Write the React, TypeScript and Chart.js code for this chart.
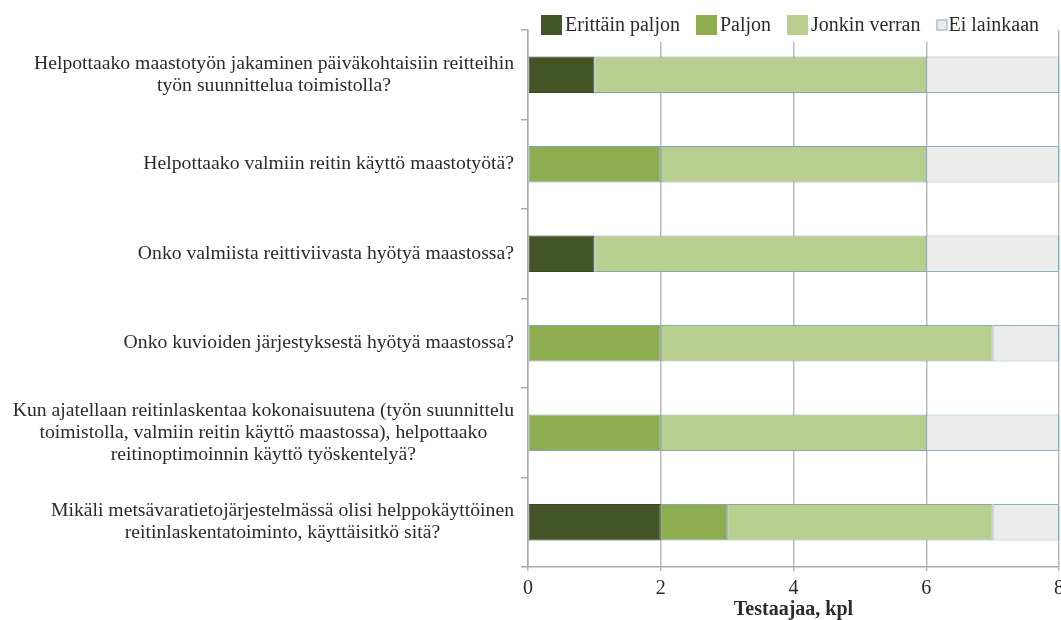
import React, { useEffect, useRef } from "react";
import { Chart, registerables } from "chart.js";

Chart.register(...registerables);

const categories: string[][] = [
  ["Helpottaako maastotyön jakaminen päiväkohtaisiin reitteihin", "työn suunnittelua toimistolla?"],
  ["Helpottaako valmiin reitin käyttö maastotyötä?"],
  ["Onko valmiista reittiviivasta hyötyä maastossa?"],
  ["Onko kuvioiden järjestyksestä hyötyä maastossa?"],
  [
    "Kun ajatellaan reitinlaskentaa kokonaisuutena (työn suunnittelu",
    "toimistolla, valmiin reitin käyttö maastossa), helpottaako",
    "reitinoptimoinnin käyttö työskentelyä?",
  ],
  ["Mikäli metsävaratietojärjestelmässä olisi helppokäyttöinen", "reitinlaskentatoiminto, käyttäisitkö sitä?"],
];

const seriesNames = ["Erittäin paljon", "Paljon", "Jonkin verran", "Ei lainkaan"];
const erittainPaljon = [1, 0, 1, 0, 0, 2];
const paljon = [0, 2, 0, 2, 2, 1];
const jonkinVerran = [5, 4, 5, 5, 4, 4];
const eiLainkaan = [2, 2, 2, 1, 2, 1];

const xTicks = [0, 2, 4, 6, 8];
const xTitle = "Testaajaa, kpl";

const FONT = "'Liberation Serif', 'Times New Roman', serif";
const TEXT = "#2b2b2b";

const labelPlugin = {
  id: "multiLabels",
  afterDraw(chart: any) {
    const ctx = chart.ctx;
    const y = chart.scales.y;
    const left = chart.chartArea.left;
    ctx.save();
    ctx.font = `19.7px ${FONT}`;
    ctx.fillStyle = TEXT;
    ctx.textAlign = "center";
    ctx.textBaseline = "middle";
    const lh = 22;
    (chart.data.labels as string[][]).forEach((lines, i) => {
      const cy = y.getPixelForValue(i);
      const w = Math.max(...lines.map((l) => ctx.measureText(l).width));
      const cx = left - 14 - w / 2;
      const top = cy - ((lines.length - 1) * lh) / 2;
      lines.forEach((l, j) => ctx.fillText(l, cx, top + j * lh));
    });
    ctx.restore();
  },
};

const legendPlugin = {
  id: "customLegend",
  afterDraw(chart: any) {
    const ctx = chart.ctx;
    ctx.save();
    ctx.fillStyle = "#ffffff";
    ctx.fillRect(535, 0, 515, 42);
    ctx.font = `20px ${FONT}`;
    ctx.textBaseline = "middle";
    let x = 541;
    const cy = 25;
    chart.data.datasets.forEach((ds: any) => {
      if (ds.legendSmall) {
        ctx.fillStyle = ds.backgroundColor;
        ctx.fillRect(x, cy - 5.5, 11, 11);
        ctx.strokeStyle = ds.borderColor;
        ctx.lineWidth = 1;
        ctx.strokeRect(x + 0.5, cy - 5, 10, 10);
        x += 12;
      } else {
        ctx.fillStyle = ds.backgroundColor;
        ctx.fillRect(x, cy - 10, 21, 20);
        x += 24;
      }
      ctx.fillStyle = TEXT;
      ctx.textAlign = "left";
      ctx.fillText(ds.label, x, cy + 1);
      x += ctx.measureText(ds.label).width + 16;
    });
    ctx.restore();
  },
};

export default function App() {
  const ref = useRef<HTMLCanvasElement>(null);
  useEffect(() => {
    if (!ref.current) return;
    const chart = new Chart(ref.current, {
      type: "bar",
      data: {
        labels: categories as any,
        datasets: [
          { label: seriesNames[0], data: erittainPaljon, backgroundColor: "#435427", borderColor: "#3a4a24" },
          { label: seriesNames[1], data: paljon, backgroundColor: "#8eac50", borderColor: "rgba(120,158,165,0.9)" },
          { label: seriesNames[2], data: jonkinVerran, backgroundColor: "#b8cf8f", borderColor: "rgba(120,158,165,0.9)" },
          { label: seriesNames[3], data: eiLainkaan, backgroundColor: "#ececec", borderColor: "rgba(130,170,185,0.9)", legendSmall: true } as any,
        ].map((d: any) => ({ ...d, borderWidth: 1, borderSkipped: false, categoryPercentage: 1, barPercentage: 0.41 })),
      },
      options: {
        indexAxis: "y",
        responsive: false,
        animation: false,
        devicePixelRatio: 1,
        layout: { padding: { left: 521, top: 30, right: 8, bottom: 0 } },
        plugins: { legend: { display: false }, tooltip: { enabled: false } },
        scales: {
          x: {
            stacked: true,
            min: 0,
            max: 8,
            afterBuildTicks: (s: any) => {
              s.ticks = xTicks.map((v) => ({ value: v }));
            },
            grid: { color: "#bbbbbb", lineWidth: 1.5, drawTicks: true, tickLength: 4 },
            border: { color: "#aaaaaa", width: 1.5 },
            ticks: { font: { family: FONT, size: 20, lineHeight: 1 }, color: TEXT, padding: 8, maxRotation: 0 },
            title: {
              display: true,
              text: xTitle,
              font: { family: FONT, size: 20, weight: "bold", lineHeight: 1 },
              color: TEXT,
              padding: { top: -7, bottom: 0 },
            },
          },
          y: {
            stacked: true,
            grid: { display: true, drawOnChartArea: false, drawTicks: true, tickLength: 7, color: "#aaaaaa", lineWidth: 1.5, offset: true },
            border: { color: "#aaaaaa", width: 1.5 },
            ticks: { display: false },
          },
        },
      },
      plugins: [labelPlugin, legendPlugin],
    });
    return () => chart.destroy();
  }, []);
  return (
    <div style={{ position: "fixed", left: 0, top: 0, width: 1061, height: 620, overflow: "hidden", background: "#fff" }}>
      <canvas ref={ref} width={1072} height={620} style={{ display: "block" }} />
    </div>
  );
}
